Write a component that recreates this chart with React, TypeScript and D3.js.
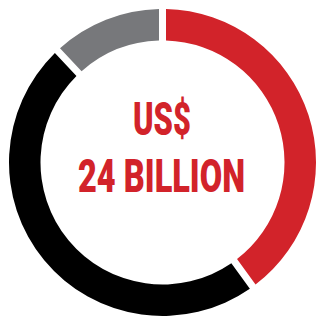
import React, { useLayoutEffect, useRef, useState } from "react";
import * as d3 from "d3";

const categories = ["Red", "Black", "Gray"];
const values = [40, 48, 12];
const colors = ["#d2232a", "#000000", "#77787b"];
const labelLines = ["US$", "24 BILLION"];

function FitText({ text, cx, y, w, size }: { text: string; cx: number; y: number; w: number; size: number }) {
  const ref = useRef<SVGTextElement>(null);
  const [s, setS] = useState(1);
  useLayoutEffect(() => {
    if (ref.current) {
      const nat = ref.current.getComputedTextLength();
      if (nat > 0) setS(w / nat);
    }
  }, [text, w]);
  return (
    <g transform={`translate(${cx},${y}) scale(${s},1)`}>
      <text
        ref={ref}
        x={0}
        y={0}
        textAnchor="middle"
        fill="#d2232a"
        fontFamily="Roboto"
        fontWeight={900}
        fontSize={size}
      >
        {text}
      </text>
    </g>
  );
}

export default function App() {
  const width = 316;
  const height = 317;
  const cx = 162.5;
  const cy = 162.5;
  const outer = 153.5;
  const inner = 122;
  const pie = d3.pie<number>().sort(null).value((d) => d);
  const arcs = pie(values);
  const arc = d3
    .arc<d3.PieArcDatum<number>>()
    .innerRadius(inner)
    .outerRadius(outer)
    .padAngle(7 / outer)
    .padRadius(outer);
  return (
    <svg
      width={width}
      height={height}
      style={{ position: "absolute", left: 0, top: 0, background: "#fff" }}
    >
      <g transform={`translate(${cx},${cy})`}>
        {arcs.map((a, i) => (
          <path key={categories[i]} d={arc(a) || ""} fill={colors[i]} />
        ))}
      </g>
      <FitText text={labelLines[0]} cx={162} y={135} w={58} size={46.5} />
      <FitText text={labelLines[1]} cx={161.5} y={192} w={167} size={47} />
    </svg>
  );
}
